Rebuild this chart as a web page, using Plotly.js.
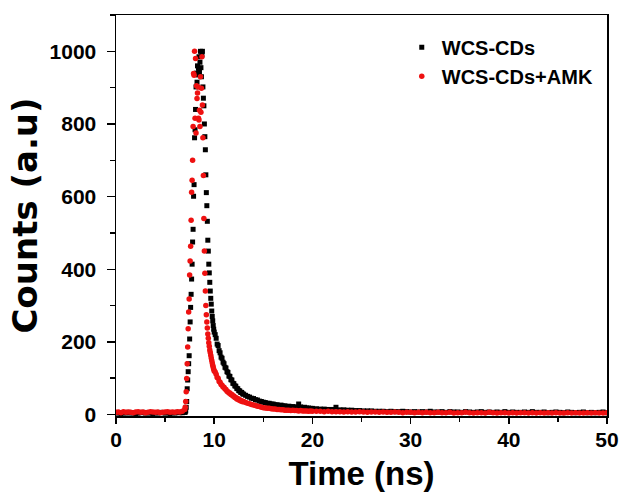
<!DOCTYPE html>
<html>
<head>
<meta charset="utf-8">
<script src="https://cdn.plot.ly/plotly-3.0.1.min.js"></script>
<style>html,body{margin:0;padding:0;background:#fff;}#chart{width:629px;height:504px;}</style>
</head>
<body>
<div id="chart"></div>
<script>
// Time channels (ns)
const timeNs = [
  0,0.25,0.5,0.75,1,1.25,1.5,1.75,2,2.25,2.5,2.75,3,3.25,3.5,3.75,4,4.25,4.5,4.75,5,5.25,5.5,5.75,6,6.25,6.5,6.75,7,
  7.05,7.1,7.15,7.2,7.25,7.3,7.35,7.4,7.45,7.5,7.55,7.6,7.65,7.7,7.75,7.8,7.85,7.9,7.95,8,
  8.05,8.1,8.15,8.2,8.25,8.3,8.35,8.4,8.45,8.5,8.55,8.6,8.65,8.7,8.75,8.8,8.85,8.9,8.95,9,
  9.05,9.1,9.15,9.2,9.25,9.3,9.35,9.4,9.45,9.5,9.55,9.6,9.65,9.7,9.75,9.8,9.85,9.9,9.95,10,
  10.1,10.2,10.3,10.4,10.5,10.6,10.7,10.8,10.9,11,11.1,11.2,11.3,11.4,11.5,11.6,11.7,11.8,11.9,12,
  12.1,12.2,12.3,12.4,12.5,12.6,12.7,12.8,12.9,13,
  13.2,13.4,13.6,13.8,14,14.2,14.4,14.6,14.8,15,15.2,15.4,15.6,15.8,16,16.2,16.4,16.6,16.8,17,
  17.2,17.4,17.6,17.8,18,18.2,18.4,18.6,18.8,19,19.2,19.4,19.6,19.8,20,
  20.4,20.8,21.2,21.6,22,22.4,22.8,23.2,23.6,24,24.4,24.8,25.2,25.6,26,26.4,26.8,27.2,27.6,28,
  28.4,28.8,29.2,29.6,30,30.4,30.8,31.2,31.6,32,32.4,32.8,33.2,33.6,34,34.4,34.8,35.2,35.6,36,
  36.4,36.8,37.2,37.6,38,38.4,38.8,39.2,39.6,40,40.4,40.8,41.2,41.6,42,42.4,42.8,43.2,43.6,44,
  44.4,44.8,45.2,45.6,46,46.4,46.8,47.2,47.6,48,48.4,48.8,49.2,49.6,50
];

// WCS-CDs counts
const countsWCS = [
  4,5,3,5,4,6,4,5,3,4,5,6,4,5,4,3,5,4,6,5,4,5,3,5,4,6,5,5,6,
  7,10,20,36,71,95,118,140,162,208,255,295,331,373,414,475,510,601,633,762,
  784,840,902,940,915,960,935,953,985,943,970,1000,955,930,990,1000,902,871,850,800,
  765,729,660,611,575,532,480,450,414,390,364,340,320,304,285,270,258,245,235,227,
  220,210,194,190,176,170,158,155,144,140,130,128,118,116,106,105,96,95,86,85,
  79,78,72,71,66,65,61,61,57,56,
  53,50,48,45,44,41,40,37,36,34,33,31,31,29,29,27,27,25,26,24,
  24,22,23,21,22,20,21,29,21,19,20,18,18,17,17,
  16,15,15,14,14,20,13,13,12,12,11,11,10,10,10,9,9,9,8,9,
  8,8,9,8,7,8,7,8,7,9,7,7,8,6,8,7,7,6,8,7,
  6,7,8,6,7,6,7,6,8,6,7,6,6,7,6,8,6,6,7,5,
  6,7,6,5,7,6,5,6,7,5,6,5,6,7,5
];

// WCS-CDs+AMK counts
const countsAMK = [
  6,7,5,8,6,7,6,5,7,8,6,7,5,6,8,7,6,7,5,6,7,8,6,7,6,8,7,9,14,
  20,36,63,99,140,186,236,282,318,384,423,463,535,612,645,700,793,939,934,1000,
  816,980,775,905,870,885,902,816,811,838,793,930,832,898,985,852,762,658,540,450,
  389,340,300,275,255,238,222,210,198,188,178,171,163,156,149,142,136,130,125,120,
  117,111,102,100,91,89,83,81,76,75,70,69,64,63,59,59,55,55,51,51,
  47,47,43,44,40,41,37,38,35,36,
  33,31,30,28,26,25,23,22,20,19,18,17,17,16,15,15,14,14,13,13,
  12,12,12,11,12,11,11,10,11,10,10,10,9,10,9,
  9,9,8,9,8,8,8,7,8,7,7,8,7,6,7,7,6,7,6,6,
  7,6,5,6,6,5,6,5,6,5,5,6,5,5,6,4,5,5,6,5,
  4,5,5,4,6,5,4,5,5,4,5,4,5,5,4,5,4,5,4,5,
  4,5,4,4,5,4,5,4,4,5,4,5,4,4,5
];

const seriesNames = ['WCS-CDs', 'WCS-CDs+AMK'];

const tickFont = {family: 'Liberation Sans, Arial, sans-serif', size: 21, color: '#000', weight: 'bold'};

const traces = [
  {
    type: 'scatter', mode: 'markers', name: seriesNames[0],
    x: timeNs, y: countsWCS,
    marker: {symbol: 'square', size: 5, color: '#000000', line: {width: 0}}
  },
  {
    type: 'scatter', mode: 'markers', name: seriesNames[1],
    x: timeNs, y: countsAMK,
    marker: {symbol: 'circle', size: 5.5, color: '#ee1111', line: {width: 0}}
  }
];

const layout = {
  width: 629, height: 504,
  margin: {l: 116, r: 22, t: 15, b: 88},
  paper_bgcolor: '#fff', plot_bgcolor: '#fff',
  showlegend: true,
  legend: {
    x: 0.582, y: 0.968, xanchor: 'left', yanchor: 'top',
    bgcolor: 'rgba(0,0,0,0)',
    font: {family: 'Liberation Sans, Arial, sans-serif', size: 20, color: '#000', weight: 'bold'}
  },
  xaxis: {
    range: [0, 50], tick0: 0, dtick: 10,
    ticks: 'outside', ticklen: 6, tickwidth: 1.5, tickcolor: '#000',
    linecolor: '#000', linewidth: 1.5, mirror: true,
    showgrid: false, zeroline: false,
    tickfont: tickFont, ticklabelstandoff: -2,
    minor: {dtick: 5, ticks: 'outside', ticklen: 4, tickwidth: 1.5, tickcolor: '#000', showgrid: false},
    title: {text: 'Time (ns)', standoff: 12, font: {family: 'Liberation Sans, Arial, sans-serif', size: 33, color: '#000', weight: 'bold'}}
  },
  yaxis: {
    range: [-4, 1100], tick0: 0, dtick: 200,
    ticks: 'outside', ticklen: 8, tickwidth: 1.5, tickcolor: '#000',
    linecolor: '#000', linewidth: 1.5, mirror: true,
    showgrid: false, zeroline: false,
    tickfont: tickFont, ticklabelstandoff: 6,
    minor: {dtick: 100, ticks: 'outside', ticklen: 5, tickwidth: 1.5, tickcolor: '#000', showgrid: false},
    title: {text: 'Counts (a.u)', standoff: 1, font: {family: 'DejaVu Sans, sans-serif', size: 34, color: '#000', weight: 'bold'}}
  }
};

Plotly.newPlot('chart', traces, layout, {staticPlot: true, displayModeBar: false});
</script>
</body>
</html>
